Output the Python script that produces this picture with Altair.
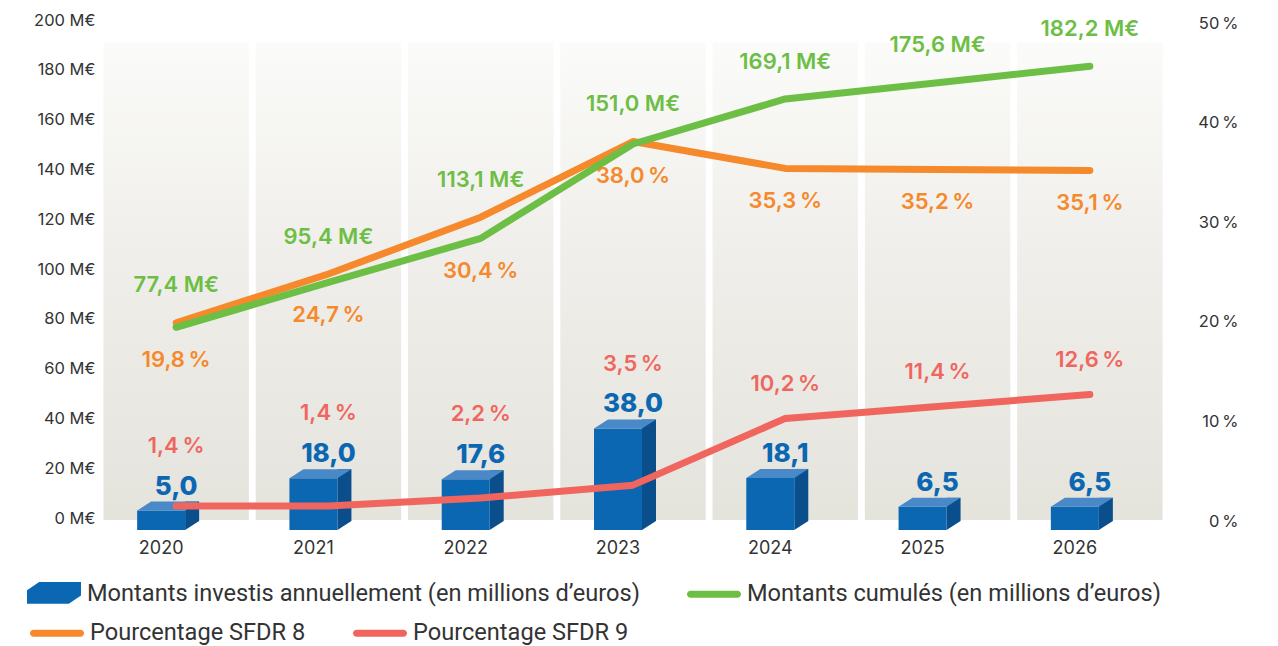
import altair as alt
import pandas as pd

# ---- data ----
years = ["2020", "2021", "2022", "2023", "2024", "2025", "2026"]
invest = [5.0, 18.0, 17.6, 38.0, 18.1, 6.5, 6.5]          # M€ per year (bars)
cumul = [77.4, 95.4, 113.1, 151.0, 169.1, 175.6, 182.2]   # M€ cumulated (green line)
sfdr8 = [19.8, 24.7, 30.4, 38.0, 35.3, 35.2, 35.1]        # % SFDR 8 (orange)
sfdr9 = [1.4, 1.4, 2.2, 3.5, 10.2, 11.4, 12.6]            # % SFDR 9 (red)

series_row1 = [
    "Montants investis annuellement (en millions d’euros)",
    "Montants cumulés (en millions d’euros)",
]
series_row2 = [
    "Pourcentage SFDR 8",
    "Pourcentage SFDR 9",
]
left_ticks = [0, 20, 40, 60, 80, 100, 120, 140, 160, 180, 200]
right_ticks = [0, 10, 20, 30, 40, 50]

df = pd.DataFrame({"year": years, "invest": invest, "cumul": cumul,
                   "sfdr8": sfdr8, "sfdr9": sfdr9})

# ---- styles ----
FRONT = "#0b67b2"
TOP = "#4a89c7"
SIDE = "#0a4f8c"
GREEN = "#6dbe45"
ORANGE = "#f5892b"
RED = "#f0665e"
BLUE_TXT = "#0b67b2"
TXT = "#333333"
FONT = "Inter"

YL = alt.Scale(domain=[0, 200], nice=False, zero=True)
YR = alt.Scale(domain=[0, 50], nice=False, zero=True)

xenc = alt.X("year:N", title=None,
             scale=alt.Scale(paddingInner=0, paddingOuter=0),
             axis=alt.Axis(labelFont=FONT, labelFontSize=18, labelColor=TXT,
                           labelOffset=-15, labelPadding=19, domain=False,
                           ticks=False, grid=False, labelAngle=0))

left_axis = alt.Axis(orient="left", values=left_ticks, title=None,
                     labelExpr="datum.value + ' M€'", domain=False, ticks=False,
                     grid=False, labelFont=FONT, labelFontSize=16.5,
                     labelColor=TXT, labelPadding=5, labelOffset=-2)
right_axis = alt.Axis(orient="right", values=right_ticks, title=None,
                      labelExpr="datum.value + '\u202f%'", domain=False,
                      ticks=False, grid=False, labelFont=FONT,
                      labelFontSize=16.5, labelColor=TXT, labelAlign="right",
                      labelPadding=72, labelOffset=1)

base = alt.Chart(df)

panels = base.mark_bar(
    width=alt.RelativeBandSize(0.955),
    color=alt.Gradient(gradient="linear",
                       stops=[alt.GradientStop(color="#fbfbf9", offset=0),
                              alt.GradientStop(color="#efeeea", offset=0.45),
                              alt.GradientStop(color="#e4e3dc", offset=1)],
                       x1=0, x2=0, y1=0, y2=1),
).encode(x=xenc, y=alt.Y(datum=192, scale=YL, axis=left_axis),
         y2=alt.Y2Datum(0))

side = base.mark_bar(width=14, xOffset=16, yOffset=-6, y2Offset=1,
                     color=SIDE).encode(
    x=xenc, y=alt.Y("invest:Q", scale=YL, axis=None), y2=alt.Y2Datum(0))

side_foot = base.mark_point(shape="M9,1L23,1L9,10Z", size=4, filled=True,
                            opacity=1, color=SIDE, strokeWidth=0).encode(
    x=xenc, y=alt.Y(datum=0, scale=YL, axis=None))

front = base.mark_bar(width=48, xOffset=-15, yOffset=3, y2Offset=10,
                      color=FRONT).encode(
    x=xenc, y=alt.Y("invest:Q", scale=YL, axis=None), y2=alt.Y2Datum(0))

top_face = base.mark_point(shape="M-39,3L9,3L23,-6L-25,-6Z", size=4,
                           filled=True, opacity=1, color=TOP,
                           strokeWidth=0).encode(
    x=xenc, y=alt.Y("invest:Q", scale=YL, axis=None))

line_kw = dict(strokeWidth=7, strokeCap="round", strokeJoin="round")

orange_line = base.mark_line(color=ORANGE, **line_kw).encode(
    x=xenc, y=alt.Y("sfdr8:Q", scale=YR, axis=right_axis))
green_line = base.mark_line(color=GREEN, **line_kw).encode(
    x=xenc, y=alt.Y("cumul:Q", scale=YL, axis=None))
red_line = base.mark_line(color=RED, **line_kw).encode(
    x=xenc, y=alt.Y("sfdr9:Q", scale=YR, axis=None))

txt_kw = dict(font=FONT, baseline="middle", align="center")

green_txt = base.transform_calculate(
    pos="max(datum.cumul, datum.sfdr8 * 4) + 15",
    lab="replace(format(datum.cumul, '.1f'), '.', ',') + ' M€'",
).mark_text(fontSize=22, fontWeight=600, color=GREEN, **txt_kw).encode(
    x=xenc, y=alt.Y("pos:Q", scale=YL, axis=None), text="lab:N")

orange_txt = base.transform_calculate(
    pos="min(datum.sfdr8, datum.cumul / 4) - 3.25",
    lab="replace(format(datum.sfdr8, '.1f'), '.', ',') + '\u202f%'",
).mark_text(fontSize=22, fontWeight=600, color=ORANGE, **txt_kw).encode(
    x=xenc, y=alt.Y("pos:Q", scale=YR, axis=None), text="lab:N")

red_txt = base.transform_calculate(
    pos="max(datum.sfdr9 + 3.5, datum.invest / 4 + 6.2)",
    lab="replace(format(datum.sfdr9, '.1f'), '.', ',') + '\u202f%'",
).mark_text(fontSize=22, fontWeight=600, color=RED, **txt_kw).encode(
    x=xenc, y=alt.Y("pos:Q", scale=YR, axis=None), text="lab:N")

blue_txt = base.transform_calculate(
    lab="replace(format(datum.invest, '.1f'), '.', ',')",
).mark_text(fontSize=26, fontWeight=800, color=BLUE_TXT, dy=-21,
            **txt_kw).encode(
    x=xenc, y=alt.Y("invest:Q", scale=YL, axis=None), text="lab:N")

# ---- legend (two rows, each laid out on its own) ----
BOX = "M-1,-0.15L-0.55,-0.45L1,-0.45L1,0.05L0.55,0.35L-1,0.35Z"
LINE = ("M-0.87,-0.13L0.87,-0.13A0.13,0.13 0 0 1 0.87,0.13"
        "L-0.87,0.13A0.13,0.13 0 0 1 -0.87,-0.13Z")


def make_legend(x, y):
    return alt.Legend(title=None, orient="none", legendX=x, legendY=y,
                      direction="horizontal", columns=2,
                      columnPadding=47, symbolSize=2916,
                      symbolOpacity=1, symbolStrokeWidth=0, symbolOffset=0,
                      labelFont="Roboto", labelFontSize=23.6, labelColor=TXT,
                      labelOffset=6, labelLimit=0, padding=0)


def legend_layer(names, colors, shapes, x, y):
    lg = make_legend(x, y)
    return alt.Chart(pd.DataFrame({"serie": names})).mark_point(
        filled=True, opacity=0).encode(
        color=alt.Color("serie:N", scale=alt.Scale(domain=names, range=colors),
                        legend=lg),
        shape=alt.Shape("serie:N", scale=alt.Scale(domain=names, range=shapes),
                        legend=lg),
    )


leg1 = legend_layer(series_row1, [FRONT, GREEN], [BOX, LINE], -73, 545)
leg2 = legend_layer(series_row2, [ORANGE, RED], [LINE, LINE], -70, 584)

chart = alt.layer(
    panels, side, side_foot, front, top_face,
    orange_line, green_line, red_line,
    green_txt, orange_txt, red_txt, blue_txt, leg1, leg2,
).resolve_scale(y="independent", color="independent",
                shape="independent").properties(
    width=1066, height=498,
    padding={"left": 92, "top": 14, "right": 104, "bottom": 126},
    autosize=alt.AutoSizeParams(type="none"),
).configure_view(strokeWidth=0)

chart.save("out.html", embed_options={"renderer": "svg", "actions": False})
